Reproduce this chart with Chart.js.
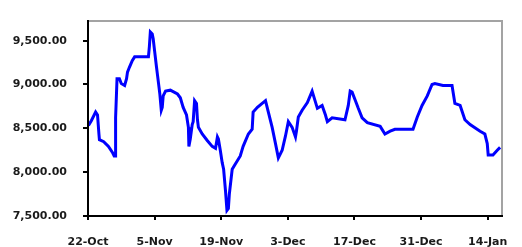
<!DOCTYPE html>
<html>
<head>
<meta charset="utf-8">
<script src="https://cdn.jsdelivr.net/npm/chart.js@4"></script>
<style>
  html, body { margin: 0; padding: 0; background: #fff; overflow: hidden; }
  canvas { display: block; }
</style>
</head>
<body>
<canvas id="price-chart" width="522" height="247"></canvas>
<script>
// Days counted from 22-Oct
const days = [
    0.1, 0.7, 1.6, 2.0, 2.3, 2.4, 3.3, 4.3, 5.1, 5.5, 5.7, 5.8, 6.1, 6.6, 7.0, 7.7,
    8.1, 8.3, 8.7, 9.3, 9.8, 12.7, 12.9, 13.1, 13.5, 13.7, 14.0, 14.4, 14.6, 14.9,
    15.1, 15.4, 15.6, 15.8, 16.3, 17.3, 18.8, 19.4, 20.0, 20.7, 21.1, 21.2, 21.5,
    21.9, 22.1, 22.4, 22.8, 23.0, 23.2, 24.0, 25.1, 26.1, 26.8, 27.2, 27.4, 27.8,
    28.2, 28.5, 28.9, 29.2, 29.5, 29.7, 30.3, 30.9, 32.0, 32.6, 33.7, 34.5, 34.7,
    35.6, 37.3, 37.9, 38.7, 39.4, 40.0, 40.8, 41.5, 42.1, 42.9, 43.6, 43.8, 44.2,
    45.0, 46.1, 47.1, 48.2, 49.2, 49.9, 50.3, 51.3, 54.0, 54.7, 55.1, 55.5, 56.2,
    56.8, 57.6, 58.7, 61.4, 62.4, 63.5, 64.5, 68.3, 69.2, 70.2, 71.3, 72.3, 72.9,
    74.6, 76.5, 77.1, 78.2, 79.2, 80.3, 82.4, 83.4, 83.9, 84.1, 85.1, 86.0, 86.6,
];
const values = [
    8533, 8587, 8685, 8652, 8435, 8370, 8348, 8294, 8228, 8185, 8185, 8620, 9065, 9065, 9011, 8989,
    9065, 9141, 9196, 9272, 9315, 9315, 9435, 9598, 9576, 9522, 9380, 9196, 9109, 8978,
    8891, 8707, 8739, 8870, 8924, 8935, 8891, 8848, 8739, 8652, 8511, 8294, 8380,
    8543, 8576, 8815, 8783, 8598, 8511, 8435, 8359, 8294, 8272, 8402, 8380, 8250,
    8109, 8033, 7783, 7565, 7587, 7750, 8033, 8087, 8185, 8294, 8435, 8489, 8685,
    8739, 8815, 8685, 8511, 8326, 8163, 8250, 8413, 8576, 8511, 8402, 8467, 8630,
    8707, 8794, 8924, 8728, 8761, 8652, 8576, 8620, 8598, 8761, 8924, 8913, 8815,
    8728, 8620, 8565, 8522, 8435, 8467, 8489, 8489, 8630, 8761, 8870, 9000, 9011,
    8989, 8989, 8783, 8761, 8598, 8543, 8467, 8435, 8326, 8196, 8196, 8250, 8283,
];
const tickDays = [0, 14, 28, 42, 56, 70, 84];
const tickLabels = ["22-Oct", "5-Nov", "19-Nov", "3-Dec", "17-Dec", "31-Dec", "14-Jan"];
const yTicks = [7500, 8000, 8500, 9000, 9500];

const labelFont = { family: "DejaVu Sans", size: 11, weight: "bold" };
const textColor = "#1a1a1a";

// grey frame on top and right, black axes with outward ticks on left and bottom
const framePlugin = {
    id: "plotFrame",
    afterDraw(chart) {
        const ctx = chart.ctx;
        const a = chart.chartArea;
        const left = Math.round(a.left), top = Math.round(a.top);
        const right = Math.round(a.right), bottom = Math.round(a.bottom);
        ctx.save();
        ctx.fillStyle = "#a3a3a3";
        ctx.fillRect(left, top, right - left + 1, 2);
        ctx.fillRect(right - 1, top, 2, bottom - top);

        ctx.fillStyle = "#000";
        ctx.fillRect(left - 1, top, 2, bottom - top + 1);
        ctx.fillRect(left - 1, bottom - 1, right - left + 2, 2);
        yTicks.forEach((v) => {
            const y = Math.round(chart.scales.y.getPixelForValue(v));
            ctx.fillRect(left - 5, y - 1, 5, 2);
        });
        tickDays.forEach((d) => {
            const x = Math.round(chart.scales.x.getPixelForValue(d));
            ctx.fillRect(x - 1, bottom, 2, 4);
        });
        ctx.restore();
    },
};

const points = days.map((d, i) => ({ x: d, y: values[i] }));

new Chart(document.getElementById("price-chart"), {
    type: "line",
    data: {
        datasets: [{
            data: points,
            borderColor: "#0000ff",
            borderWidth: 3,
            pointRadius: 0,
            fill: false,
            tension: 0,
        }],
    },
    options: {
        responsive: false,
        animation: false,
        layout: { padding: { top: 10, right: 20, left: 0, bottom: 0 } },
        plugins: { legend: { display: false }, tooltip: { enabled: false } },
        scales: {
            x: {
                type: "linear",
                min: 0,
                max: 87,
                afterBuildTicks: (s) => { s.ticks = tickDays.map((v) => ({ value: v })); },
                afterFit: (s) => { s.height = 31; },
                ticks: {
                    autoSkip: false,
                    maxRotation: 0,
                    padding: 12,
                    color: textColor,
                    font: labelFont,
                    callback: (v) => tickLabels[tickDays.indexOf(v)],
                },
                grid: { display: false },
                border: { display: false },
            },
            y: {
                min: 7500,
                max: 9740,
                afterBuildTicks: (s) => { s.ticks = yTicks.map((v) => ({ value: v })); },
                afterFit: (s) => { s.width = 88; },
                ticks: {
                    padding: 13,
                    color: textColor,
                    font: labelFont,
                    callback: (v) => v.toLocaleString("en-US", { minimumFractionDigits: 2 }),
                },
                grid: { display: false },
                border: { display: false },
            },
        },
    },
    plugins: [framePlugin],
});
</script>
</body>
</html>
